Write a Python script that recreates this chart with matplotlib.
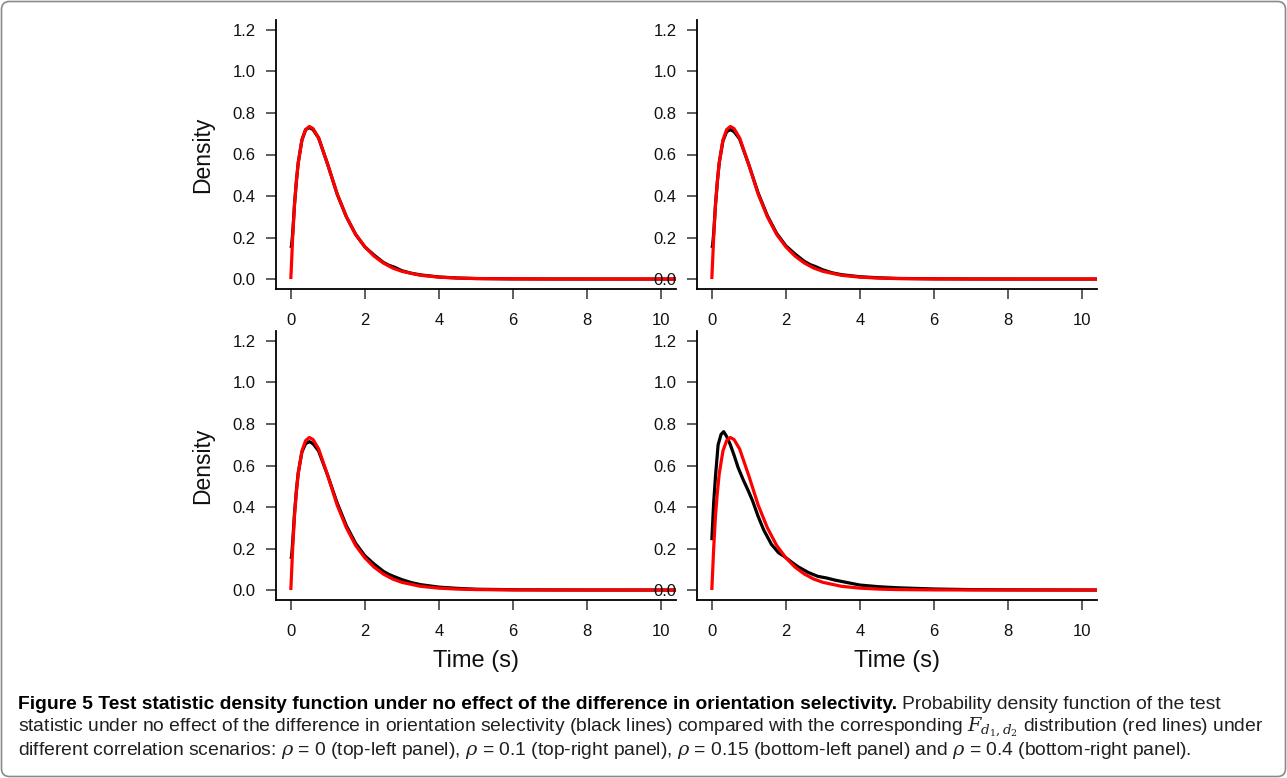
import matplotlib
matplotlib.use('Agg')
import matplotlib.pyplot as plt
from matplotlib.patches import FancyBboxPatch
from matplotlib.transforms import IdentityTransform

# reference F(d1,d2) density (red), same in all four panels
time_ref = [0, 0.05, 0.1, 0.15, 0.2, 0.3, 0.4, 0.5, 0.6, 0.75, 1.0, 1.25, 1.5, 1.75,
            2.0, 2.25, 2.5, 2.75, 3.0, 3.5, 4.0, 4.5, 5.0, 6.0, 7.0, 8.0, 10.4]
dens_ref = [0, 0.2, 0.36, 0.47, 0.56, 0.67, 0.72, 0.735, 0.725, 0.68, 0.55, 0.41, 0.30, 0.215,
            0.155, 0.11, 0.077, 0.053, 0.037, 0.018, 0.009, 0.0045, 0.0022, 0.0006, 0.0002, 0.0001, 0.0]

# simulated test statistic densities (black)
time_emp = [0, 0.02, 0.05, 0.1, 0.15, 0.2, 0.3, 0.4, 0.5, 0.6, 0.75, 1.0, 1.25, 1.5, 1.75,
            2.0, 2.25, 2.5, 2.65, 2.8, 3.0, 3.25, 3.5, 4.0, 4.5, 5.0, 6.0, 7.0, 8.0, 9.0, 10.4]
dens_rho0 = [0.15, 0.16, 0.22, 0.36, 0.47, 0.56, 0.67, 0.72, 0.73, 0.72, 0.68, 0.55, 0.41, 0.30, 0.215,
             0.155, 0.115, 0.08, 0.066, 0.057, 0.04, 0.028, 0.02, 0.01, 0.005, 0.0025, 0.0008, 0.0003, 0.0001, 0.0, 0.0]
dens_rho01 = [0.15, 0.16, 0.22, 0.36, 0.47, 0.56, 0.665, 0.71, 0.72, 0.71, 0.675, 0.55, 0.415, 0.305, 0.22,
              0.16, 0.12, 0.085, 0.07, 0.06, 0.044, 0.03, 0.021, 0.011, 0.006, 0.003, 0.001, 0.0004, 0.0001, 0.0, 0.0]
dens_rho015 = [0.15, 0.16, 0.23, 0.37, 0.48, 0.565, 0.665, 0.705, 0.715, 0.705, 0.67, 0.55, 0.42, 0.31, 0.225,
               0.165, 0.125, 0.09, 0.075, 0.064, 0.05, 0.036, 0.026, 0.014, 0.008, 0.004, 0.0015, 0.0006, 0.0002, 0.0001, 0.0]
time_rho04 = [0, 0.05, 0.1, 0.17, 0.25, 0.32, 0.4, 0.5, 0.6, 0.71, 0.85, 0.98, 1.1, 1.25, 1.4, 1.61, 1.8,
              1.97, 2.15, 2.33, 2.6, 2.86, 3.1, 3.32, 3.6, 4.0, 4.5, 5.0, 6.0, 7.0, 8.0, 9.0, 10.4]
dens_rho04 = [0.24, 0.42, 0.55, 0.70, 0.75, 0.763, 0.74, 0.70, 0.65, 0.59, 0.53, 0.48, 0.43, 0.355, 0.29, 0.22, 0.18,
              0.16, 0.135, 0.112, 0.085, 0.066, 0.058, 0.048, 0.038, 0.024, 0.016, 0.011, 0.005, 0.002, 0.001, 0.0005, 0.0]

x_ticks = [0, 2, 4, 6, 8, 10]
y_ticks = [0.0, 0.2, 0.4, 0.6, 0.8, 1.0, 1.2]

W, H = 1287, 778
fig = plt.figure(figsize=(W / 100, H / 100), dpi=100)
plt.rcParams['font.family'] = ['Liberation Sans', 'DejaVu Sans']

# panel boxes in pixels: left, top, right, bottom
boxes = [(276, 20, 676, 289), (697, 20, 1097, 289),
         (276, 331, 676, 600), (697, 331, 1097, 600)]
panels = [(time_emp, dens_rho0), (time_emp, dens_rho01),
          (time_emp, dens_rho015), (time_rho04, dens_rho04)]

for i, ((l, t, r, b), (tx, dy)) in enumerate(zip(boxes, panels)):
    ax = fig.add_axes([l / W, 1 - b / H, (r - l) / W, (b - t) / H])
    ax.patch.set_alpha(0)
    ax.plot(tx, dy, color='black', lw=2.3, solid_capstyle='butt')
    ax.plot(time_ref, dens_ref, color='#ff0000', lw=2.3, solid_capstyle='butt')
    ax.set_xlim(-0.4, 10.4)
    ax.set_ylim(-0.048, 1.248)
    ax.set_xticks(x_ticks)
    ax.set_xticklabels([str(v) for v in x_ticks])
    ax.set_yticks(y_ticks)
    ax.set_yticklabels(['%.1f' % v for v in y_ticks])
    for s in ['top', 'right']:
        ax.spines[s].set_visible(False)
    for s in ['left', 'bottom']:
        ax.spines[s].set_linewidth(1.3)
    ax.tick_params(axis='both', direction='out', length=7.2, width=1.1,
                   color='#333333', labelsize=12, labelcolor='#111111')
    ax.tick_params(axis='x', pad=10)
    ax.tick_params(axis='y', pad=7.5)
    ax.set_zorder(1 if i % 2 == 0 else 2)
    if i % 2 == 0:
        ax.text(-0.1825, 0.5, 'Density', transform=ax.transAxes, rotation=90,
                ha='center', va='center', fontsize=16.5, color='#111111')
    if i >= 2:
        ax.text(0.5, -0.225, 'Time (s)', transform=ax.transAxes,
                ha='center', va='center', fontsize=17, color='#111111')

# caption
cap_font = ['Liberation Sans Narrow', 'Liberation Sans', 'DejaVu Sans']
plt.rcParams['mathtext.fontset'] = 'dejavuserif'
line1_bold = 'Figure 5 Test statistic density function under no effect of the difference in orientation selectivity.'
line1_rest = 'Probability density function of the test'
line2 = ('statistic under no effect of the difference in orientation selectivity (black lines) compared with the '
         'corresponding $F_{d_1,d_2}$ distribution (red lines) under')
line3 = (r'different correlation scenarios: $\rho$ = 0 (top-left panel), $\rho$ = 0.1 (top-right panel), '
         r'$\rho$ = 0.15 (bottom-left panel) and $\rho$ = 0.4 (bottom-right panel).')

x0 = 18 / W
renderer = fig.canvas.get_renderer()
t2 = fig.text(x0, 1 - 732 / H, line2, family=cap_font, fontsize=12, color='#231f20', va='baseline')
w2 = t2.get_window_extent(renderer).width
size = 12 * 1244 / w2
t2.set_fontsize(size)
fig.text(x0, 1 - 755 / H, line3, family=cap_font, fontsize=size, color='#231f20', va='baseline')
tb = fig.text(x0, 1 - 709 / H, line1_bold, family=cap_font, fontsize=size, fontweight='bold',
              color='black', va='baseline')
wb = tb.get_window_extent(renderer).x1
fig.text((wb + 5) / W, 1 - 709 / H, line1_rest, family=cap_font, fontsize=size, color='#231f20',
         va='baseline')

# rounded frame round the figure
frame = FancyBboxPatch((1.5, 1.5), W - 3, H - 3, boxstyle='round,pad=0,rounding_size=8',
                       transform=IdentityTransform(), fill=False, ec='#8a8a8a', lw=1.2)
fig.add_artist(frame)

fig.savefig('out.png', dpi=100)
